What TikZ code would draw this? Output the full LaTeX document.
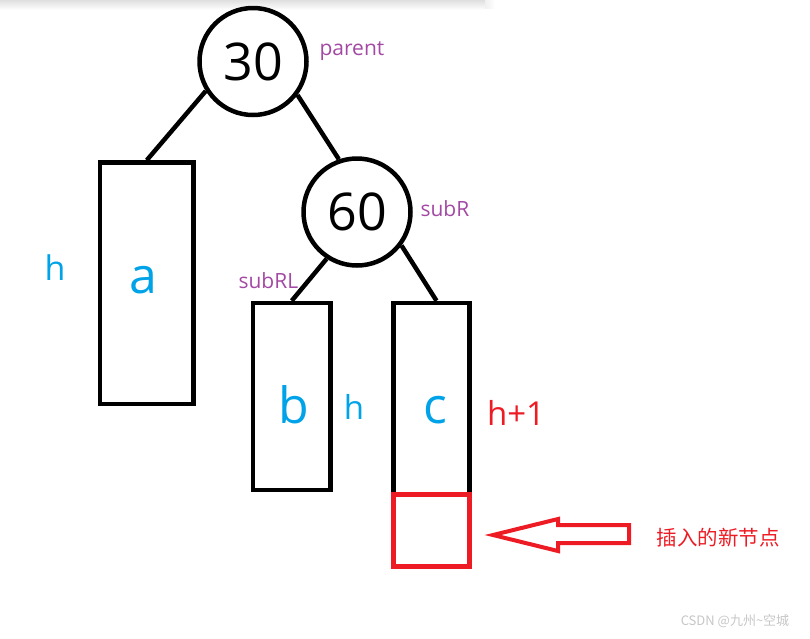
\documentclass[tikz,border=0pt]{standalone}
\usepackage{fontspec}
\setmainfont{Open Sans}
\newfontfamily\cjk{Noto Sans CJK SC}
\definecolor{paintblue}{HTML}{00A2E8}
\definecolor{paintpurple}{HTML}{A349A4}
\definecolor{paintred}{HTML}{ED1C24}

\begin{document}
\begin{tikzpicture}[x=1pt,y=-1pt,
    treenode/.style={draw, circle, line width=4.5pt, minimum size=107pt, inner sep=0pt, font=\fontsize{52}{60}\selectfont},
    subtree/.style={draw, rectangle, line width=4.5pt, inner sep=0pt},
    letter/.style={anchor=base, text=paintblue, font=\fontsize{50}{60}\selectfont},
    height/.style={anchor=base, text=paintblue, font=\fontsize{33}{40}\selectfont},
    role/.style={anchor=base west, text=paintpurple, font=\fontsize{21}{25}\selectfont},
    edge/.style={line width=4.5pt}]
    \useasboundingbox (0,0) rectangle (810,638);
    \shade[top color=gray!25, bottom color=white] (0,0) rectangle (485,10);
    \shade[left color=gray!12, right color=white] (485,0) rectangle (495,8);

    \node[treenode] (parent) at (253,61.5) {30};
    \node[treenode] (subR) at (357,212) {60};
    \node[subtree, minimum width=93.5pt, minimum height=241.5pt] (a) at (146.75,283.25) {};
    \node[subtree, minimum width=77.5pt, minimum height=187pt] (b) at (291.75,396.5) {};
    \node[subtree, minimum width=76pt, minimum height=191.5pt] (c) at (431.5,398.75) {};
    \node[subtree, draw=paintred, minimum width=76pt, minimum height=72pt] (new) at (431.5,530.5) {};

    \draw[edge] (parent.212) -- (a.north);
    \draw[edge] (parent.323) -- (subR.109);
    \draw[edge] (subR.237) -- (b.north);
    \draw[edge] (subR.323) -- ([xshift=5pt]c.north);

    \node[letter] (la) at (143,293) {a};
    \node[letter] (lb) at (293.5,423) {b};
    \node[letter] (lc) at (435,423) {c};
    \node[height, font=\fontsize{34}{40}\selectfont] (ha) at (55,280) {h};
    \node[height] (hb) at (354,419) {h};
    \node[height, text=paintred] (hc) at (516,425) {h+1};

    \node[role] (rp) at (316,55) {parent};
    \node[role] (rr) at (417,216) {subR};
    \node[role] (rl) at (235,288) {subRL};

    \draw[paintred, line width=4pt, line join=miter]
        (493,535) -- (558,519) -- (558,525) -- (629,525) -- (629,543) -- (558,543) -- (558,551) -- cycle;
    \node[text=paintred, font=\cjk\fontsize{20.5}{24}\selectfont] (insert) at (718,538) {插入的新节点};

    \node[text=gray!45, font=\cjk\fontsize{13}{16}\selectfont] (mark) at (735,621) {CSDN @九州\textasciitilde 空城};
\end{tikzpicture}
\end{document}
